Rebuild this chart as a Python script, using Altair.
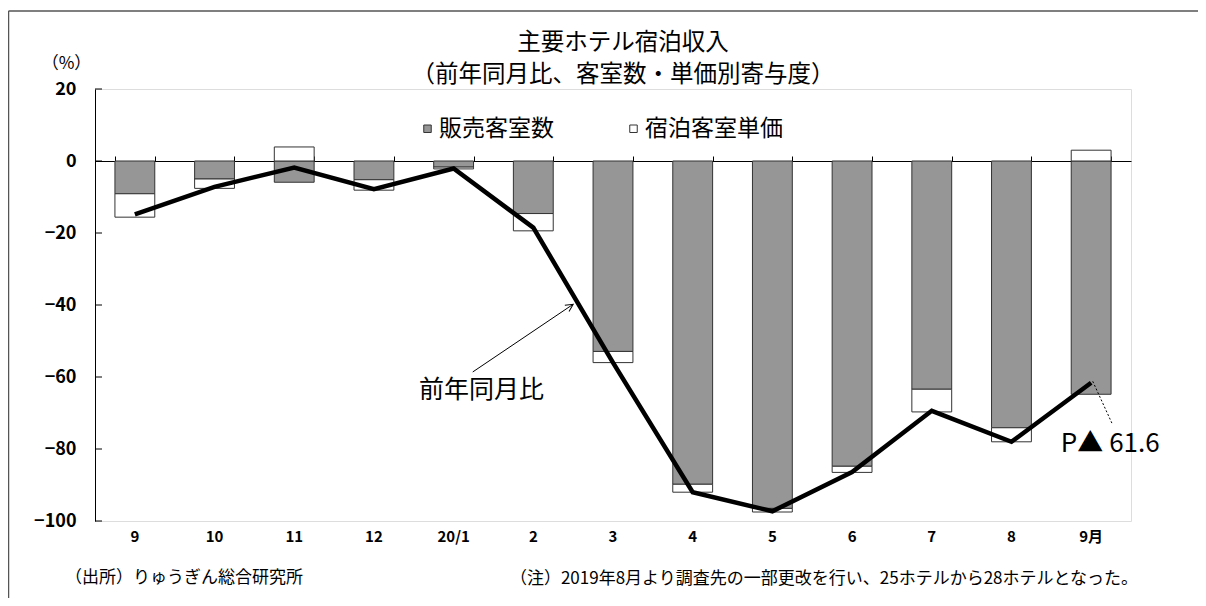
import altair as alt
import pandas as pd

FONT = "Noto Sans CJK JP"

# ---- data ----
months = ["9", "10", "11", "12", "20/1", "2", "3", "4", "5", "6", "7", "8", "9月"]
rooms = [-9.1, -5.0, -5.9, -5.2, -1.7, -14.6, -52.9, -89.8, -96.5, -84.8, -63.4, -74.1, -64.8]
price = [-6.5, -2.6, 3.9, -2.9, -0.5, -4.8, -3.1, -2.2, -1.0, -1.7, -6.3, -3.9, 3.0]
yoy = [-14.8, -7.2, -1.8, -7.8, -2.1, -18.5, -56.0, -92.0, -97.3, -86.4, -69.4, -78.0, -61.6]
series_names = ["販売客室数", "宿泊客室単価"]
series_colors = ["#969696", "#ffffff"]
y_ticks = [20, 0, -20, -40, -60, -80, -100]

title_line1 = "主要ホテル宿泊収入"
title_line2 = "（前年同月比、客室数・単価別寄与度）"
line_label = "前年同月比"
last_label = "P▲ 61.6"
source_note = "（出所）りゅうぎん総合研究所"
foot_note = "（注）2019年8月より調査先の一部更改を行い、25ホテルから28ホテルとなった。"

# annotation anchors (x in month-index units, y in %)
label_pos = {"ax": [4.85], "ay": [-63.7], "t": [line_label]}
arrow_pos = {"ax": [4.74, 6.0], "ay": [-58.6, -39.8]}
last_pos = {"ax": [12.74], "ay": [-78.5], "t": [last_label]}
leader_pos = {"ax": [12.52, 12.76], "ay": [-61.2, -72.8]}

# ---- tables ----
rows = []
for m, r, p in zip(months, rooms, price):
    rows.append({"month": m, "series": series_names[0], "y0": 0.0, "y1": r})
    if p < 0:
        rows.append({"month": m, "series": series_names[1], "y0": r, "y1": r + p})
    else:
        rows.append({"month": m, "series": series_names[1], "y0": 0.0, "y1": p})
bars_df = pd.DataFrame(rows)
line_df = pd.DataFrame({"month": months, "yoy": yoy})
ytick_df = pd.DataFrame({"v": y_ticks})

xscale = alt.Scale(domain=months, paddingInner=0.5, paddingOuter=0.25)
yscale = alt.Scale(domain=[-100, 20], nice=False, zero=False)
axscale = alt.Scale(domain=[0, 13], nice=False, zero=False)

yaxis = alt.Axis(values=y_ticks, title="（%）", titleAngle=0, titleX=-29, titleY=-26,
                 titleAlign="center", titleBaseline="middle", titleFontSize=17,
                 titleFontWeight="normal", titleFont=FONT, titleColor="black",
                 ticks=False, tickSize=0, grid=False, domainColor="black",
                 domainWidth=1, labelFontSize=18, labelFont=FONT, labelColor="black",
                 labelFontWeight="bold", labelPadding=19, labels=True)


def Y(field):
    return alt.Y(field, scale=yscale, axis=yaxis)


bars = alt.Chart(bars_df).mark_bar(stroke="#333333", strokeWidth=1).encode(
    x=alt.X("month:N", sort=months, scale=xscale,
            axis=alt.Axis(orient="bottom", title=None, labelAngle=0, ticks=False, tickSize=0,
                          domain=False, grid=False, labelPadding=8, labelFontSize=15,
                          labelFontWeight="bold", labelColor="black", labelFont=FONT)),
    y=Y("y0:Q"),
    y2="y1:Q",
    fill=alt.Fill("series:N", scale=alt.Scale(domain=series_names, range=series_colors),
                  legend=alt.Legend(title=None, orient="none", legendX=321, legendY=28,
                                    direction="horizontal", symbolType="square", symbolSize=56,
                                    symbolStrokeColor="#333333", symbolStrokeWidth=1,
                                    labelFontSize=23, labelFont=FONT, labelColor="black",
                                    columnPadding=68, labelOffset=0)),
)

line = alt.Chart(line_df).mark_line(color="black", strokeWidth=4.5).encode(
    x=alt.X("month:N", sort=months, scale=xscale,
            axis=alt.Axis(orient="top", offset=-72, title=None, labels=False, tickBand="extent",
                          ticks=True, tickSize=5, tickColor="black", domain=True,
                          domainColor="black", domainWidth=1, grid=False)),
    y=Y("yoy:Q"),
)

yticks = alt.Chart(ytick_df).mark_rule(color="black", strokeWidth=1).encode(
    y=Y("v:Q"), x=alt.value(0), x2=alt.value(7),
)

ann_label = alt.Chart(pd.DataFrame(label_pos)).mark_text(
    fontSize=25, font=FONT, color="black", align="center", baseline="middle").encode(
    x=alt.X("ax:Q", scale=axscale, axis=None), y=Y("ay:Q"), text="t:N")

ann_arrow = alt.Chart(pd.DataFrame(arrow_pos)).mark_line(color="black", strokeWidth=1).encode(
    x=alt.X("ax:Q", scale=axscale, axis=None), y=Y("ay:Q"))

ann_head = alt.Chart(pd.DataFrame(arrow_pos).iloc[[1]]).mark_point(
    shape="M-0.5,1L0,0L0.5,1", filled=False, size=225, angle=56, color="black",
    strokeWidth=1, opacity=1).encode(
    x=alt.X("ax:Q", scale=axscale, axis=None), y=Y("ay:Q"))

ann_last = alt.Chart(pd.DataFrame(last_pos)).mark_text(
    fontSize=26, font=FONT, color="black", align="center", baseline="middle").encode(
    x=alt.X("ax:Q", scale=axscale, axis=None), y=Y("ay:Q"), text="t:N")

ann_leader = alt.Chart(pd.DataFrame(leader_pos)).mark_line(
    color="black", strokeWidth=1, strokeDash=[2, 2]).encode(
    x=alt.X("ax:Q", scale=axscale, axis=None), y=Y("ay:Q"))

one = pd.DataFrame({"k": [0]})
t1 = alt.Chart(one).mark_text(fontSize=23.5, font=FONT, color="black", align="center",
                              baseline="middle", text=title_line1).encode(
    x=alt.value(528), y=alt.value(-46))
t2 = alt.Chart(one).mark_text(fontSize=23.5, font=FONT, color="black", align="center",
                              baseline="middle", text=title_line2).encode(
    x=alt.value(528), y=alt.value(-14))
src = alt.Chart(one).mark_text(fontSize=17, font=FONT, color="black", align="left",
                               baseline="middle", text=source_note).encode(
    x=alt.value(-30), y=alt.value(489))
note = alt.Chart(one).mark_text(fontSize=17, font=FONT, color="black", align="right",
                                baseline="middle", text=foot_note).encode(
    x=alt.value(1043), y=alt.value(490))

frame_left = alt.Chart(one).mark_rule(color="#555555", strokeWidth=1.5).encode(
    x=alt.value(-86.5), y=alt.value(-78), y2=alt.value(530))
frame_top = alt.Chart(one).mark_rule(color="#555555", strokeWidth=1.5).encode(
    x=alt.value(-86.5), x2=alt.value(1103), y=alt.value(-78))

chart = alt.layer(
    bars, line, yticks, ann_label, ann_arrow, ann_head, ann_last, ann_leader,
    t1, t2, src, note, frame_left, frame_top,
).resolve_scale(x="independent").properties(
    width=1036, height=432,
    autosize=alt.AutoSizeParams(type="none"),
    padding={"left": 87, "top": 81, "right": 67, "bottom": 77},
).configure_view(stroke=None).configure(background="white")

chart.save("out.html", embed_options={"renderer": "svg", "actions": False})
